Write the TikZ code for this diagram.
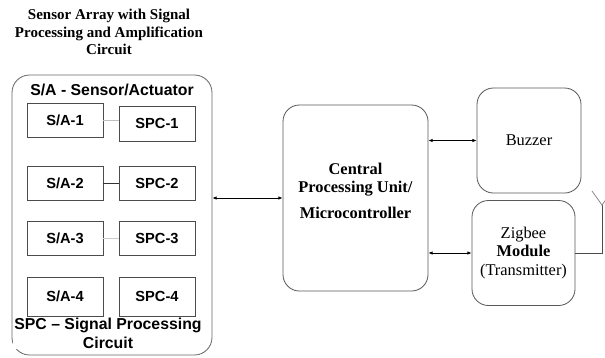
\documentclass[tikz,border=0pt]{standalone}
\usepackage{fontspec}
\setmainfont{Liberation Serif}
\setsansfont{Liberation Sans}
\usetikzlibrary{positioning,arrows.meta}
\tikzset{
	grupo/.style={rectangle, draw=black!60, rounded corners=15pt, line width=0.7pt,
		minimum width=6cm, minimum height=8.4cm},
	bloque/.style={rectangle, draw=black!65, rounded corners=14pt, line width=0.7pt},
	sensor/.style={rectangle, draw=black!70, line width=0.6pt, minimum width=2.28cm,
		minimum height=1.02cm, font=\sffamily\bfseries\fontsize{12.5}{14}\selectfont},
	enlace/.style={line width=0.6pt},
	flecha/.style={{Latex[length=3.5pt,width=2.8pt]}-{Latex[length=3.5pt,width=2.8pt]}, line width=0.6pt}
}

\begin{document}
\begin{tikzpicture}[x=0.03cm, y=-0.03cm]
	\useasboundingbox (0,0) rectangle (605,358);
	% titulo del grupo de sensores
	\node[align=center, font=\bfseries\fontsize{12.8}{15}\selectfont] (titulo) at (109,32)
		{Sensor Array with Signal\\Processing and Amplification\\Circuit};
	
	% grupo de sensores
	\node[grupo] (sensores) at (112,215) {};
	\node[font=\sffamily\bfseries\fontsize{13.5}{15}\selectfont] (etsa) at (112,90) {S/A - Sensor/Actuator};
	
	\node[sensor] (sa1) at (65,120) {S/A-1};
	\node[sensor, minimum height=1.05cm] (spc1) at (157,123.5) {SPC-1};
	\node[sensor] (sa2) at (65,183) {S/A-2};
	\node[sensor] (spc2) at (157,183.5) {SPC-2};
	\node[sensor] (sa3) at (65,238.5) {S/A-3};
	\node[sensor] (spc3) at (157,238.5) {SPC-3};
	\node[sensor, minimum height=1.17cm] (sa4) at (65,296.5) {S/A-4};
	\node[sensor, minimum height=1.17cm] (spc4) at (157,296.5) {SPC-4};
	
	\draw[enlace, black!25] (sa1.east) -- (sa1.east -| spc1.west);
	\draw[enlace, black!80] (sa2.east) -- (sa2.east -| spc2.west);
	\draw[enlace, black!20] (sa3.east) -- (sa3.east -| spc3.west);
	
	\node[align=center, fill=white, inner sep=1pt, font=\sffamily\bfseries\fontsize{13.5}{16}\selectfont] (etspc) at (108,333)
		{SPC -- Signal Processing\\Circuit};
	
	% bloques de la derecha
	\node[bloque, minimum width=4.35cm, minimum height=5.58cm] (cpu) at (355.5,198) {};
	\node[align=center, font=\bfseries\fontsize{14}{15.5}\selectfont] (etcpu) at (355.5,191)
		{Central\\Processing Unit/\\[7pt]Microcontroller};
	
	\node[bloque, minimum width=3.12cm, minimum height=3.15cm, font=\fontsize{14}{16}\selectfont] (buzzer) at (529,140.5) {Buzzer};
	\node[bloque, minimum width=3.09cm, minimum height=3.15cm, align=center, inner sep=1pt, font=\fontsize{14}{15.8}\selectfont] (zigbee) at (523.5,253)
		{Zigbee\\\textbf{Module}\\(Transmitter)};
	
	% conexiones
	\draw[flecha] (cpu.west -| sensores.east) -- (cpu.west);
	\draw[flecha] (buzzer.west -| cpu.east) -- (buzzer.west);
	\draw[flecha] (zigbee.west -| cpu.east) -- (zigbee.west);
	
	% antena
	\coordinate (antena) at (602,205);
	\begin{scope}
		\clip (0,0) rectangle (605,358);
		\draw[enlace, black!70] (zigbee.east) -| (antena);
		\draw[enlace, black!50] (592,191) -- (antena) -- (612,191);
	\end{scope}
\end{tikzpicture}
\end{document}
